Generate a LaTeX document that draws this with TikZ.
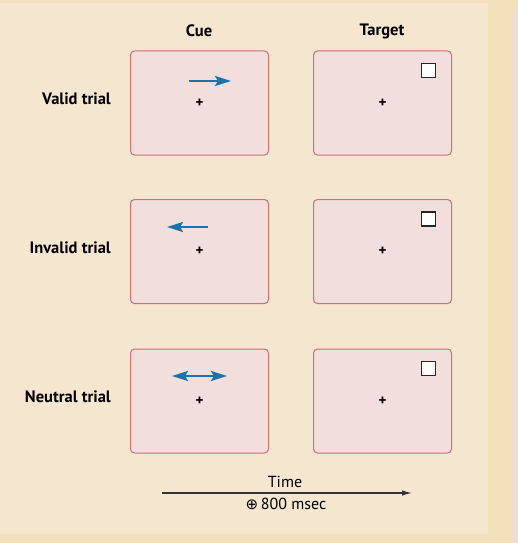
\documentclass[tikz,border=0pt]{standalone}
\usepackage{fontspec}
\setmainfont{PT Sans}
\newfontfamily\symfont{DejaVu Sans}
\usetikzlibrary{arrows.meta}
\definecolor{panel}{HTML}{F5E6CF}
\definecolor{texture}{HTML}{F1E0B9}
\definecolor{pinkstripe}{HTML}{F0DCDC}
\definecolor{boxfill}{HTML}{F2DEDD}
\definecolor{boxedge}{HTML}{CC7070}
\definecolor{cueblue}{HTML}{1A72AA}
\definecolor{axisgray}{HTML}{333333}
\begin{document}
\begin{tikzpicture}[x=1pt,y=-1pt,
  screen/.style={draw=boxedge,fill=boxfill,line width=1pt,rounded corners=4pt,
    minimum width=138pt,minimum height=104pt,inner sep=0pt},
  fixmark/.style={inner sep=0pt,font=\fontsize{15}{15}\selectfont\bfseries},
  targetsq/.style={draw=black!85,fill=white,line width=1.4pt,minimum size=14pt,inner sep=0pt},
  cuetip/.tip={Stealth[length=16pt,width=10pt,inset=3pt]},
  cuearrow/.style={draw=cueblue,line width=2.4pt,-cuetip},
  cuedouble/.style={draw=cueblue,line width=2.4pt,cuetip-cuetip},
  head/.style={font=\fontsize{16.5}{18}\selectfont\bfseries,inner sep=0pt},
  rowlabel/.style={font=\fontsize{16.5}{18}\selectfont\bfseries,inner sep=0pt,anchor=east},
  timetext/.style={font=\fontsize{16}{18}\selectfont,inner sep=0pt}]
\useasboundingbox (0,0) rectangle (518,543);
\fill[texture] (0,0) rectangle (518,543);
\fill[pinkstripe] (513,10) rectangle (518,543);
\fill[panel] (0,3) rectangle (488,534);

% column heads
\node[head] (hcue) at (199,31) {Cue};
\node[head] (htarget) at (382,31) {Target};

% rows
\foreach \r/\y/\lab in {1/103/Valid trial,2/251.5/Invalid trial,3/401/Neutral trial}{
  \node[rowlabel] (lab\r) at (111,\y-4) {\lab};
  \node[screen] (cue\r) at (199.5,\y) {};
  \node[screen] (tgt\r) at (382.5,\y) {};
  \node[fixmark] (cfix\r) at (cue\r.center) {+};
  \node[fixmark] (tfix\r) at (tgt\r.center) {+};
  \node[targetsq] (sq\r) at ([shift={(46,-32.5)}]tgt\r.center) {};
}

% cue arrows
\coordinate (a1s) at ([shift={(-10.5,-22)}]cue1.center);
\coordinate (a1e) at ([shift={(31.5,-22)}]cue1.center);
\draw[cuearrow] (a1s) -- (a1e);
\coordinate (a2s) at ([shift={(8.5,-24.5)}]cue2.center);
\coordinate (a2e) at ([shift={(-32.5,-24.5)}]cue2.center);
\draw[cuearrow] (a2s) -- (a2e);
\coordinate (a3s) at ([shift={(-27.5,-25)}]cue3.center);
\coordinate (a3e) at ([shift={(27.5,-25)}]cue3.center);
\draw[cuedouble] (a3s) -- (a3e);

% time axis
\coordinate (tstart) at (162,493);
\coordinate (tend) at (412,493);
\draw[axisgray,line width=1.3pt,-{Latex[length=10pt,width=5.5pt]}] (tstart) -- (tend);
\node[timetext] (timelab) at (285,482) {Time};
\node[timetext] (durlab) at (286,504) {{\symfont\fontsize{15}{16}\selectfont ⊕}\,800 msec};
\end{tikzpicture}
\end{document}
